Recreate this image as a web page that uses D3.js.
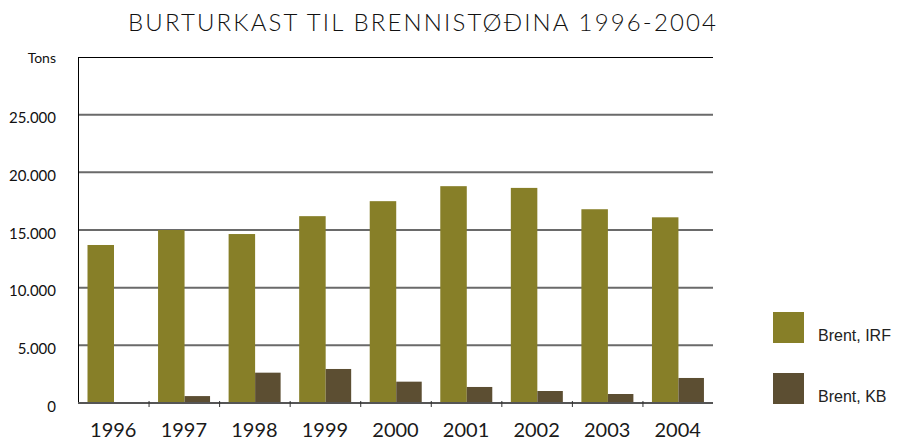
<!DOCTYPE html>
<html>
<head>
<meta charset="utf-8">
<script src="https://cdn.jsdelivr.net/npm/d3@7"></script>
<style>
  body { margin: 0; background: #fff; }
  svg { display: block; }
</style>
</head>
<body>
<script>
// data
const years = ["1996", "1997", "1998", "1999", "2000", "2001", "2002", "2003", "2004"];
const irf = [13700, 15000, 14650, 16200, 17500, 18800, 18650, 16800, 16100];
const kb = [0, 600, 2630, 2950, 1850, 1390, 1040, 780, 2170];
const seriesNames = ["Brent, IRF", "Brent, KB"];
const yTicks = [0, 5000, 10000, 15000, 20000, 25000];

const colors = ["#877f28", "#5c4e32"];
const w = 898, h = 440;
const plotL = 78, plotR = 713, plotT = 57, plotB = 403;

const svg = d3.select("body").append("svg")
  .attr("width", w)
  .attr("height", h);

// title
svg.append("text")
   .attr("x", 128)
   .attr("y", 31)
   .attr("textLength", 588)
   .attr("lengthAdjust", "spacing")
   .attr("font-family", "Lato, 'Open Sans', sans-serif")
   .attr("font-size", 24)
   .attr("font-weight", 300)
   .attr("fill", "#111")
   .text("BURTURKAST TIL BRENNISTØÐINA 1996-2004");

const x = d3.scaleBand().domain(years).range([plotL, plotR]).paddingInner(0).paddingOuter(0);
const y = d3.scaleLinear().domain([0, 30000]).range([plotB, plotT]);
const sub = d3.scaleBand().domain([0, 1]).range([9.5, 62.5]);

// gridlines
svg.append("g")
   .selectAll("line")
   .data(yTicks.filter(d => d > 0))
   .enter()
   .append("line")
   .attr("x1", plotL)
   .attr("x2", plotR)
   .attr("y1", d => y(d))
   .attr("y2", d => y(d))
   .attr("stroke", "#6a6a6a")
   .attr("stroke-width", 2);

// top border + left axis line
svg.append("line")
   .attr("x1", plotL).attr("x2", plotR)
   .attr("y1", plotT + 0.5).attr("y2", plotT + 0.5)
   .attr("stroke", "#000").attr("stroke-width", 1);
svg.append("line")
   .attr("x1", plotL + 0.5).attr("x2", plotL + 0.5)
   .attr("y1", plotT).attr("y2", plotB)
   .attr("stroke", "#000").attr("stroke-width", 1);

// bars
const groups = svg.append("g")
  .selectAll("g")
  .data(years)
  .enter()
  .append("g")
  .attr("transform", d => "translate(" + x(d) + ",0)");

groups.append("rect")
  .attr("x", sub(0))
  .attr("y", (d, i) => y(irf[i]))
  .attr("width", sub.bandwidth())
  .attr("height", (d, i) => plotB - y(irf[i]))
  .attr("fill", colors[0]);

groups.append("rect")
  .attr("x", sub(1))
  .attr("y", (d, i) => y(kb[i]))
  .attr("width", sub.bandwidth() - 1)
  .attr("height", (d, i) => plotB - y(kb[i]))
  .attr("fill", colors[1]);

// baseline
svg.append("line")
   .attr("x1", plotL).attr("x2", plotR)
   .attr("y1", plotB).attr("y2", plotB)
   .attr("stroke", "#555").attr("stroke-width", 2);

// x axis
const xAxis = d3.axisBottom(x).tickSize(0).tickPadding(20);
const gx = svg.append("g")
   .attr("transform", "translate(0," + plotB + ")")
   .call(xAxis);
gx.select(".domain").remove();
gx.selectAll("text")
  .attr("font-family", "Lato, 'Open Sans', sans-serif")
  .attr("font-size", 20)
  .attr("fill", "#1a1a1a");

// small ticks between categories
svg.append("g")
   .selectAll("line")
   .data(years.slice(1))
   .enter()
   .append("line")
   .attr("x1", d => x(d) + 0.5)
   .attr("x2", d => x(d) + 0.5)
   .attr("y1", plotB - 2)
   .attr("y2", plotB + 4)
   .attr("stroke", "#333")
   .attr("stroke-width", 1);

// y axis labels
const fmt = d => d === 0 ? "0" : d3.format(",")(d).replace(/,/g, ".");
const yAxis = d3.axisLeft(y).tickValues(yTicks).tickSize(0).tickPadding(22).tickFormat(fmt);
const gy = svg.append("g")
   .attr("transform", "translate(" + plotL + ",0)")
   .call(yAxis);
gy.select(".domain").remove();
gy.selectAll("text")
  .attr("dy", "0.55em")
  .attr("font-family", "Lato, 'Open Sans', sans-serif")
  .attr("font-size", 15)
  .attr("fill", "#111");

svg.append("text")
   .attr("x", 56)
   .attr("y", 63)
   .attr("text-anchor", "end")
   .attr("font-family", "Lato, 'Open Sans', sans-serif")
   .attr("font-size", 14)
   .attr("fill", "#111")
   .text("Tons");

// legend
const legend = svg.append("g")
  .selectAll("g")
  .data(seriesNames)
  .enter()
  .append("g")
  .attr("transform", (d, i) => "translate(773," + (312 + i * 61) + ")");

legend.append("rect")
  .attr("width", 31)
  .attr("height", 31)
  .attr("fill", (d, i) => colors[i]);

legend.append("text")
  .attr("x", 45)
  .attr("y", 29)
  .attr("font-family", "'Liberation Sans', Arial, sans-serif")
  .attr("font-size", 16)
  .attr("fill", "#222")
  .text(d => d);
</script>
</body>
</html>
